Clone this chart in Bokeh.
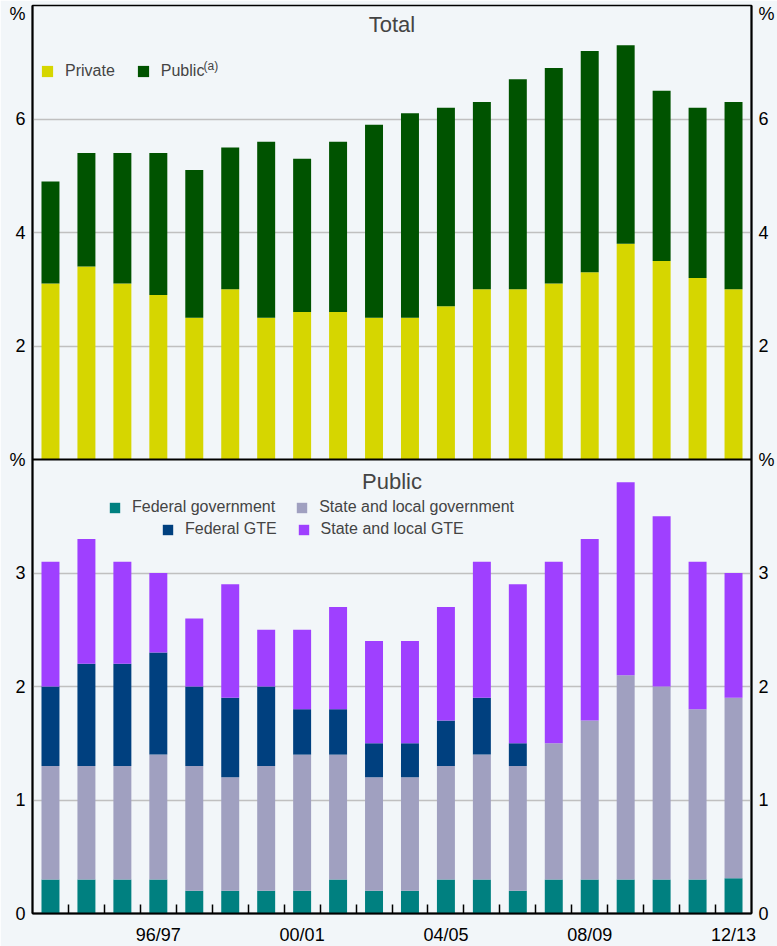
from bokeh.plotting import figure
from bokeh.models import (ColumnDataSource, Range1d, FixedTicker, LinearAxis, Span,
                          Label, Legend, LegendItem)
from bokeh.embed import file_html
from bokeh.resources import INLINE

# ---------------- data ----------------
years = ["93/94", "94/95", "95/96", "96/97", "97/98", "98/99", "99/00", "00/01",
         "01/02", "02/03", "03/04", "04/05", "05/06", "06/07", "07/08", "08/09",
         "09/10", "10/11", "11/12", "12/13"]
labelled_years = ["96/97", "00/01", "04/05", "08/09", "12/13"]

# Top panel "Total" (per cent)
private = [3.1, 3.4, 3.1, 2.9, 2.5, 3.0, 2.5, 2.6, 2.6, 2.5,
           2.5, 2.7, 3.0, 3.0, 3.1, 3.3, 3.8, 3.5, 3.2, 3.0]
public = [1.8, 2.0, 2.3, 2.5, 2.6, 2.5, 3.1, 2.7, 3.0, 3.4,
          3.6, 3.5, 3.3, 3.7, 3.8, 3.9, 3.5, 3.0, 3.0, 3.3]

# Bottom panel "Public" (per cent)
federal_government = [0.3, 0.3, 0.3, 0.3, 0.2, 0.2, 0.2, 0.2, 0.3, 0.2,
                      0.2, 0.3, 0.3, 0.2, 0.3, 0.3, 0.3, 0.3, 0.3, 0.31]
state_local_government = [1.0, 1.0, 1.0, 1.1, 1.1, 1.0, 1.1, 1.2, 1.1, 1.0,
                          1.0, 1.0, 1.1, 1.1, 1.2, 1.4, 1.8, 1.7, 1.5, 1.59]
federal_gte = [0.7, 0.9, 0.9, 0.9, 0.7, 0.7, 0.7, 0.4, 0.4, 0.3,
               0.3, 0.4, 0.5, 0.2, 0.0, 0.0, 0.0, 0.0, 0.0, 0.0]
state_local_gte = [1.1, 1.1, 0.9, 0.7, 0.6, 1.0, 0.5, 0.7, 0.9, 0.9,
                   0.9, 1.0, 1.2, 1.4, 1.6, 1.6, 1.7, 1.5, 1.3, 1.1]

total_ticks = [2, 4, 6]
public_ticks = [0, 1, 2, 3]
TOTAL_MAX = 8
PUBLIC_MAX = 4

# ---------------- styles ----------------
BG = "#F2F6F9"
C_PRIV = "#D6D600"
C_PUB = "#005300"
C_FG = "#008080"
C_SLG = "#A0A0C0"
C_FGTE = "#00407F"
C_SLGTE = "#9F40FF"
FONT = "Liberation Sans"

x = list(range(len(years)))
src = ColumnDataSource(dict(x=x, year=years, private=private, public=public,
                            fg=federal_government, slg=state_local_government,
                            fgte=federal_gte, slgte=state_local_gte))

FRAME_H = 908
p = figure(frame_width=719, frame_height=FRAME_H,
           x_range=Range1d(-0.5, len(years) - 0.5),
           y_range=Range1d(-TOTAL_MAX, TOTAL_MAX),
           output_backend="svg", toolbar_location=None,
           min_border_left=32, min_border_right=26, min_border_top=5, min_border_bottom=0)
p.extra_y_ranges = {"pub": Range1d(0, 2 * PUBLIC_MAX)}
p.background_fill_color = BG
p.border_fill_color = BG
p.outline_line_color = "black"
p.outline_line_width = 1.5


def pub_to_primary(v):
    r0, r1 = 0, 2 * PUBLIC_MAX
    p0, p1 = -TOTAL_MAX, TOTAL_MAX
    return p0 + (v - r0) * (p1 - p0) / (r1 - r0)


# "%" unit markers: at the top of the top panel (slightly inside) and at the panel join
pct_top = TOTAL_MAX - 8 * (2 * TOTAL_MAX) / FRAME_H
tick_pos = [pub_to_primary(v) for v in public_ticks] + [pub_to_primary(PUBLIC_MAX)] \
    + list(total_ticks) + [pct_top]
overrides = {pub_to_primary(v): str(v) for v in public_ticks}
overrides[pub_to_primary(PUBLIC_MAX)] = "%"
for t in total_ticks:
    overrides[t] = str(t)
overrides[pct_top] = "%"
grid_pos = [pub_to_primary(v) for v in public_ticks if v > 0] + list(total_ticks)

# bars
r_top = p.vbar_stack(["private", "public"], x="x", width=0.5, color=[C_PRIV, C_PUB],
                     line_color=None, source=src)
r_bot = p.vbar_stack(["fg", "slg", "fgte", "slgte"], x="x", width=0.5,
                     color=[C_FG, C_SLG, C_FGTE, C_SLGTE], line_color=None,
                     source=src, y_range_name="pub")

# grid
p.xgrid.visible = False
p.ygrid.ticker = FixedTicker(ticks=grid_pos)
p.ygrid.grid_line_color = "#C0C0C0"
p.ygrid.grid_line_width = 1.5


def style_y(ax, standoff):
    ax.ticker = FixedTicker(ticks=tick_pos)
    ax.major_label_overrides = overrides
    ax.major_tick_in = 0
    ax.major_tick_out = 0
    ax.minor_tick_in = 0
    ax.minor_tick_out = 0
    ax.axis_line_color = "black"
    ax.axis_line_width = 2
    ax.major_label_text_font = FONT
    ax.major_label_text_font_size = "18px"
    ax.major_label_text_color = "black"
    ax.major_label_standoff = standoff


style_y(p.yaxis[0], 7)
right_ax = LinearAxis()
style_y(right_ax, 7)
p.add_layout(right_ax, "right")

# x axis
xa = p.xaxis[0]
label_idx = [years.index(y) for y in labelled_years]
xa.ticker = FixedTicker(ticks=label_idx, minor_ticks=[i + 0.5 for i in range(len(years) - 1)])
xa.major_label_overrides = {i: years[i] for i in label_idx}
xa.major_tick_in = 0
xa.major_tick_out = 0
xa.minor_tick_in = 9
xa.minor_tick_out = 0
xa.minor_tick_line_color = "black"
xa.minor_tick_line_width = 1.5
xa.axis_line_color = "black"
xa.axis_line_width = 2
xa.major_label_text_font = FONT
xa.major_label_text_font_size = "18px"
xa.major_label_text_color = "black"
xa.major_label_standoff = 11

# separator between panels
p.add_layout(Span(location=0, dimension="width", line_color="black", line_width=2))

# panel titles
mid = (len(years) - 1) / 2
p.add_layout(Label(x=mid, y=TOTAL_MAX, y_offset=-6, text="Total", text_align="center",
                   text_baseline="top", text_font=FONT, text_font_size="22px"))
p.add_layout(Label(x=mid, y=0, y_offset=-9, text="Public", text_align="center",
                   text_baseline="top", text_font=FONT, text_font_size="22px"))


def make_legend(items, loc, gsize, spacing):
    return Legend(items=items, orientation="horizontal", location=loc,
                  glyph_width=gsize, glyph_height=gsize, label_standoff=11, spacing=spacing,
                  padding=0, margin=0, label_text_font=FONT, label_text_font_size="16px",
                  label_height=gsize, background_fill_alpha=0, border_line_alpha=0)


p.add_layout(make_legend([LegendItem(label="Private", renderers=[r_top[0]]),
                          LegendItem(label="Public", renderers=[r_top[1]])],
                         (8, FRAME_H - 75), 14, 21), "center")
p.add_layout(Label(x=171, y=FRAME_H - 53, x_units="screen", y_units="screen", text="(a)",
                   text_baseline="top", text_align="left", text_font=FONT,
                   text_font_size="12px"))
p.add_layout(make_legend([LegendItem(label="Federal government", renderers=[r_bot[0]]),
                          LegendItem(label="State and local government", renderers=[r_bot[1]])],
                         (76, FRAME_H - 511), 13, 20), "center")
p.add_layout(make_legend([LegendItem(label="Federal GTE", renderers=[r_bot[2]]),
                          LegendItem(label="State and local GTE", renderers=[r_bot[3]])],
                         (129, FRAME_H - 533), 13, 20), "center")

open("out.html", "w").write(file_html(p, INLINE))
